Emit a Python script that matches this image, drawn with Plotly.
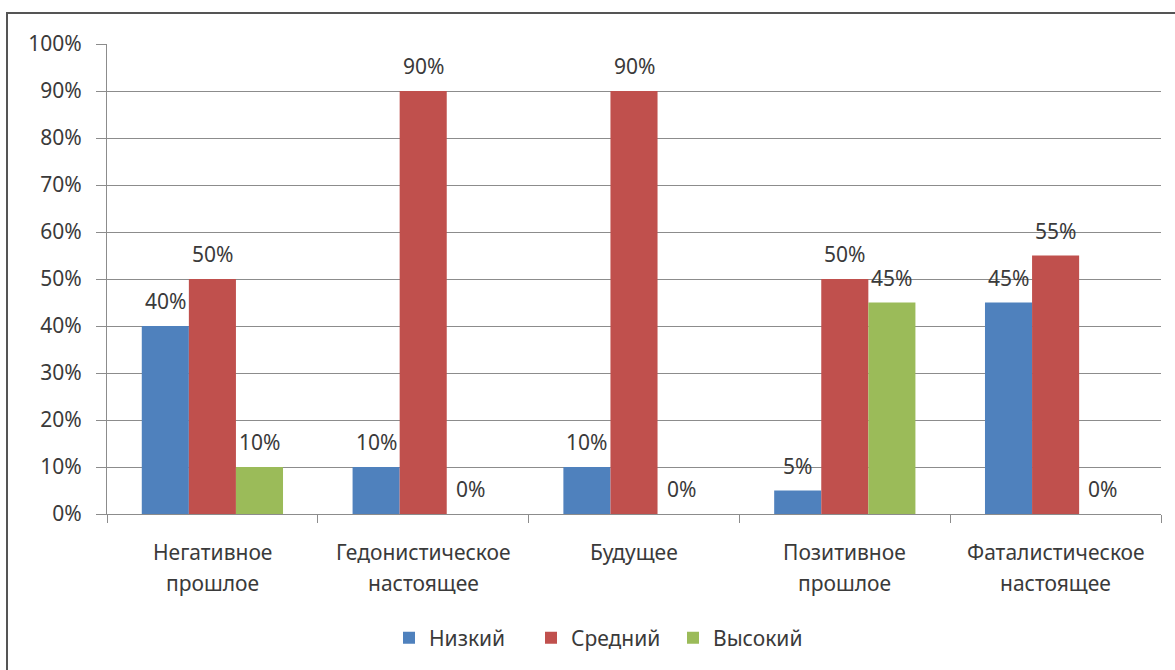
import plotly.graph_objects as go

categories = ["Негативное\nпрошлое", "Гедонистическое\nнастоящее", "Будущее",
              "Позитивное\nпрошлое", "Фаталистическое\nнастоящее"]
series_names = ["Низкий", "Средний", "Высокий"]
low = [0.40, 0.10, 0.10, 0.05, 0.45]
mid = [0.50, 0.90, 0.90, 0.50, 0.55]
high = [0.10, 0.00, 0.00, 0.45, 0.00]
series_values = [low, mid, high]
colors = ["#4F81BD", "#C0504D", "#9BBB59"]
y_ticks = [0, 0.1, 0.2, 0.3, 0.4, 0.5, 0.6, 0.7, 0.8, 0.9, 1.0]

FONT = "Noto Sans"
TXT = "#3a3a3a"
GRID = "#8c8c8c"
FS = 21

# plot area in pixels
L, R, T, B = 107, 1175 - 1161, 44, 670 - 514
PW, PH = 1175 - L - R, 670 - T - B
BARGAP = 0.33
bar_w = PW / len(categories) * (1 - BARGAP) / 3

fig = go.Figure()
for name, vals, col in zip(series_names, series_values, colors):
    fig.add_trace(go.Bar(x=categories, y=vals, name=name,
                         marker=dict(color=col, line=dict(width=0))))

annotations = []
for si, vals in enumerate(series_values):
    for c, v in zip(categories, vals):
        annotations.append(dict(x=c, y=v, xref="x", yref="y",
                                text=f"{round(v*100)}%", showarrow=False,
                                xshift=(si - 1) * bar_w, yshift=25,
                                yanchor="middle", xanchor="center",
                                font=dict(family=FONT, size=FS, color=TXT)))
for c in categories:
    for li, line in enumerate(c.split("\n")):
        annotations.append(dict(x=c, y=0, xref="x", yref="paper",
                                text=line, showarrow=False,
                                yshift=-38 - 31 * li, yanchor="middle",
                                font=dict(family=FONT, size=FS, color=TXT)))

fig.update_layout(
    width=1175, height=670,
    margin=dict(l=L, r=R, t=T, b=B),
    paper_bgcolor="white", plot_bgcolor="white",
    barmode="group", bargap=BARGAP, bargroupgap=0,
    font=dict(family=FONT, size=FS, color=TXT),
    annotations=annotations,
    legend=dict(orientation="h", x=(602 - L) / PW, xanchor="center",
                y=-124 / PH, yanchor="middle",
                font=dict(family=FONT, size=FS, color=TXT),
                itemwidth=30, entrywidth=97, entrywidthmode="pixels"),
    shapes=[dict(type="rect", xref="paper", yref="paper",
                 x0=(7 - L) / PW, x1=1.2, y0=-0.6, y1=1 + (T - 13) / PH,
                 line=dict(color="#555555", width=2))],
)
fig.update_xaxes(type="category", showline=True, linecolor=GRID, linewidth=1,
                 ticks="outside", tickson="boundaries", ticklen=8, tickcolor=GRID,
                 showticklabels=False, showgrid=False)
fig.update_yaxes(range=[0, 1], tickvals=y_ticks, tickformat=".0%",
                 showline=True, linecolor=GRID, linewidth=1,
                 ticks="outside", ticklen=10, tickcolor=GRID,
                 gridcolor=GRID, gridwidth=1, zeroline=False,
                 tickfont=dict(family=FONT, size=FS, color=TXT),
                 ticklabelstandoff=10)

fig.write_html("out.html", config={"displayModeBar": False},
               post_script="document.body.style.margin='0';document.body.style.overflow='hidden';")
